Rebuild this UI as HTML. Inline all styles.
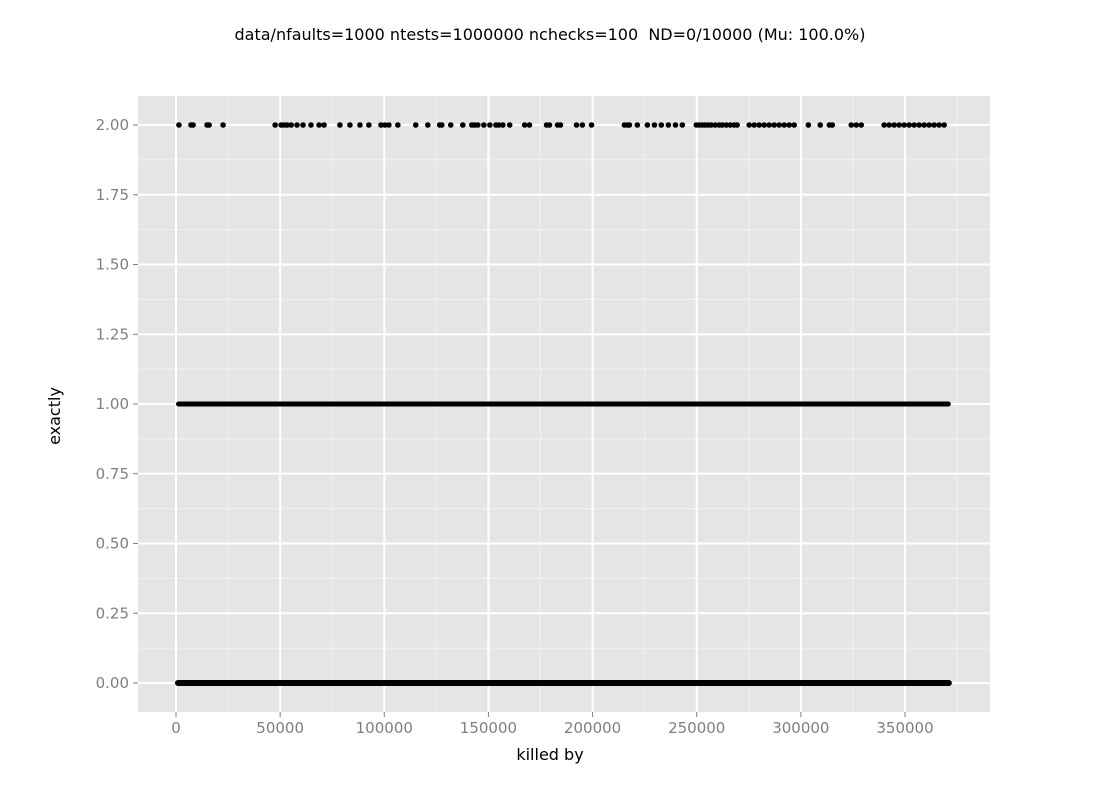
<!DOCTYPE html>
<html><head><meta charset="utf-8"><style>
body{margin:0;background:#fff;}
svg text{font-family:"DejaVu Sans","Liberation Sans",sans-serif;}
</style></head><body>
<svg id="chart" width="1100" height="800" viewBox="0 0 1100 800" xmlns="http://www.w3.org/2000/svg">
<text xml:space="preserve" style="white-space:pre" x="550" y="40" text-anchor="middle" font-size="16" fill="#000">data/nfaults=1000 ntests=1000000 nchecks=100  ND=0/10000 (Mu: 100.0%)</text>
<rect x="138" y="96" width="852" height="616" fill="#e5e5e5"/>
<g id="grid"></g><g id="marks"></g><g id="axes"></g>
<text x="550" y="760" text-anchor="middle" font-size="16" fill="#000">killed by</text>
<text transform="translate(60,416) rotate(-90)" text-anchor="middle" font-size="16" fill="#000">exactly</text>
</svg>
<script>
const xTicks=[0,50000,100000,150000,200000,250000,300000,350000];
const yTicks=[0,0.25,0.5,0.75,1,1.25,1.5,1.75,2];
const yTickLabels=["0.00","0.25","0.50","0.75","1.00","1.25","1.50","1.75","2.00"];
// sparse points at exactly = 2 (killed-by values)
const twoX=[1400,7200,8200,14900,15900,22600,47600,50500,51900,53400,55300,58100,61000,64800,68700,71100,78700,83500,88300,92600,98400,100300,102200,106500,115100,120900,126600,127600,131900,137700,142000,143400,144900,147800,150700,153600,155000,156900,160200,167400,169700,177900,179300,183200,184600,192300,195100,199500,215300,216700,217700,221500,226300,229700,233000,236400,239800,243100,249800,251300,252700,254100,255600,257000,258900,260800,262300,264200,266100,268000,269400,275200,277600,280000,282400,284800,287200,289600,292000,294400,296800,303600,309300,313700,315100,324200,326600,329000,340000,342400,344800,347200,349600,352000,354400,356800,359200,361600,364000,366400,368800];
// dense runs at exactly = 1 and exactly = 0 (start, end)
const oneRuns=[[0,372000]];
const zeroRuns=[[-500,372500]];
const X0=176, XS=729/350000, Y0=683, YS=279;
const sx=v=>X0+v*XS, sy=v=>Y0-v*YS;
const NS="http://www.w3.org/2000/svg";
function mk(tag,attrs,parent){const e=document.createElementNS(NS,tag);for(const k in attrs)e.setAttribute(k,attrs[k]);parent.appendChild(e);return e;}
const grid=document.getElementById('grid'),marks=document.getElementById('marks'),axes=document.getElementById('axes');
for(let i=0;i<xTicks.length;i++){const v=xTicks[i]+25000;const x=sx(v);if(x<990){const l=mk('line',{x1:x,x2:x,y1:96,y2:712,stroke:'#f2f2f2','stroke-width':1},grid);

}}
for(let i=0;i<yTicks.length-1;i++){const y=sy((yTicks[i]+yTicks[i+1])/2);const l=mk('line',{x1:138,x2:990,y1:y,y2:y,stroke:'#f2f2f2','stroke-width':1},grid);

}
xTicks.forEach(v=>{const x=sx(v);const l=mk('line',{x1:x,x2:x,y1:96,y2:712,stroke:'#fff','stroke-width':2},grid);


const t=mk('line',{x1:x,x2:x,y1:712,y2:717,stroke:'#7f7f7f','stroke-width':1},axes);


const tx=mk('text',{x:x,y:733,'text-anchor':'middle','font-size':15,fill:'#7f7f7f'},axes);tx.textContent=v;

});
yTicks.forEach((v,i)=>{const y=sy(v);const l=mk('line',{x1:138,x2:990,y1:y,y2:y,stroke:'#fff','stroke-width':2},grid);


const t=mk('line',{x1:133,x2:138,y1:y,y2:y,stroke:'#7f7f7f','stroke-width':1},axes);


const tx=mk('text',{x:129,y:y+5,'text-anchor':'end','font-size':15,fill:'#7f7f7f'},axes);tx.textContent=yTickLabels[i];

});
twoX.forEach(v=>{const c=mk('circle',{cx:sx(v),cy:sy(2),r:2.8,fill:'#000'},marks);

});
function drawRun(run,yv,name,h){const x1=sx(run[0]),x2=sx(run[1]);
const r=mk('rect',{x:x1,y:sy(yv)-h/2,width:x2-x1,height:h,rx:h/2,fill:'#000'},marks);

}
oneRuns.forEach(r=>drawRun(r,1,'points-exactly-1',5));
zeroRuns.forEach(r=>drawRun(r,0,'points-exactly-0',6));
</script>
</body></html>
